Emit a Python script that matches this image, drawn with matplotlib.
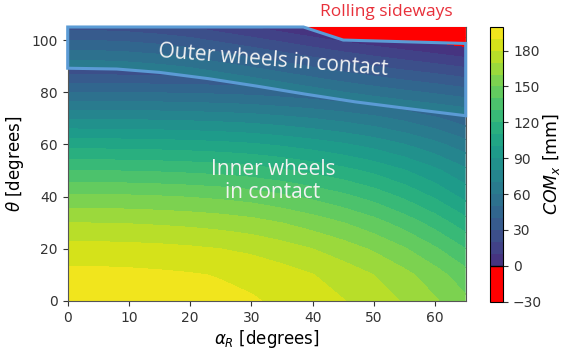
import numpy as np
import matplotlib.pyplot as plt
from matplotlib.colors import ListedColormap, BoundaryNorm
from matplotlib.patches import Polygon
import matplotlib as mpl

# COM_x [mm] on an (alpha_R, theta) grid
alpha_deg = [0, 5, 10, 15, 20, 25, 30, 35, 40, 45, 50, 55, 60, 65]

theta_inner = [0, 10, 20, 30, 40, 50, 60, 70, 80, 90]
com_inner = [
    [196, 195.9, 195.5, 194.9, 194.0, 192.7, 191.0, 188.1, 184.6, 180.4, 175.3, 168.9, 161.2, 152],
    [193, 192.9, 192.5, 191.8, 190.8, 189.4, 187.4, 184.2, 180.3, 175.6, 170.0, 162.9, 154.3, 144],
    [184, 183.8, 183.4, 182.7, 181.6, 180.0, 177.8, 174.3, 170.0, 164.8, 158.6, 150.8, 141.3, 130],
    [170, 169.8, 169.4, 168.6, 167.5, 165.9, 163.6, 159.9, 155.4, 150.1, 143.7, 135.6, 125.8, 114],
    [152, 151.8, 151.4, 150.6, 149.5, 147.9, 145.7, 142.1, 137.7, 132.5, 126.2, 118.2, 108.6, 97],
    [130, 129.9, 129.5, 128.8, 127.8, 126.5, 124.5, 121.4, 117.5, 113.0, 107.4, 100.5, 92.1, 82],
    [106, 105.9, 105.5, 105.0, 104.1, 102.9, 101.2, 98.4, 95.1, 91.1, 86.3, 80.2, 72.8, 64],
    [79, 78.9, 78.6, 78.1, 77.4, 76.4, 75.0, 72.7, 69.9, 66.6, 62.6, 57.5, 51.4, 44],
    [50, 49.9, 49.7, 49.3, 48.7, 47.9, 46.7, 44.8, 42.5, 39.7, 36.4, 32.2, 27.1, 21],
    [20, 19.9, 19.8, 19.5, 19.0, 18.4, 17.5, 16.0, 14.3, 12.2, 9.7, 6.5, 2.6, -2],
]

theta_outer = [60, 70, 80, 90, 100, 105]
com_outer = [
    [143.9, 143.4, 142.1, 139.8, 136.6, 131.7, 126.9, 122.0, 117.0, 112.2, 108.0, 104.1, 100.5, 96.6],
    [117.9, 117.4, 116.1, 113.8, 110.6, 105.7, 100.9, 96.0, 91.0, 86.2, 82.0, 78.1, 74.5, 70.6],
    [91.9, 91.4, 90.1, 87.8, 84.6, 79.7, 74.9, 70.0, 65.0, 60.2, 56.0, 52.1, 48.5, 44.6],
    [65.9, 65.4, 64.1, 61.8, 58.6, 53.7, 48.9, 44.0, 39.0, 34.2, 30.0, 26.1, 22.5, 18.6],
    [39.9, 39.4, 38.1, 35.8, 32.6, 27.7, 22.9, 18.0, 13.0, 8.2, 4.0, 0.1, -3.5, -7.4],
    [26.9, 26.4, 25.1, 22.8, 19.6, 14.7, 9.9, 5.0, 0.0, -4.8, -9.0, -12.9, -16.5, -20.4],
]

# switch between inner and outer wheels in contact
contact_alpha = [0, 8, 15, 23, 31, 39, 47, 56, 65]
contact_theta = [89.2, 88.9, 87.6, 85.2, 82.3, 79.2, 76.3, 73.6, 71]

# robot rolls sideways above this line
rolling_alpha = [38.5, 45, 65]
rolling_theta = [105, 100, 98.7]

levels = np.arange(-30, 201, 10)
band_colors = []
for lo, hi in zip(levels[:-1], levels[1:]):
    if hi <= 0:
        band_colors.append('#ff0000')
    else:
        band_colors.append(plt.cm.viridis(((lo + hi) / 2 + 30) / 230))
cmap = ListedColormap(band_colors)
norm = BoundaryNorm(levels, cmap.N)

fig = plt.figure(figsize=(5.61, 3.52), dpi=100)
ax = fig.add_axes([67.7 / 561, 51 / 352, 398 / 561, 274 / 352])
cax = fig.add_axes([490 / 561, 50.3 / 352, 13.3 / 561, 275 / 352])

A, T = np.meshgrid(alpha_deg, theta_inner)
cs_in = ax.contourf(A, T, np.array(com_inner), levels=levels, cmap=cmap, norm=norm)
inner_poly = [(0, 0), (65, 0)] + list(zip(contact_alpha, contact_theta))[::-1]
clip_in = Polygon(inner_poly, closed=True, transform=ax.transData, facecolor='none', edgecolor='none')
ax.add_patch(clip_in)
cs_in.set_clip_path(clip_in)

A2, T2 = np.meshgrid(alpha_deg, theta_outer)
cs_out = ax.contourf(A2, T2, np.array(com_outer), levels=levels, cmap=cmap, norm=norm)
outer_poly = list(zip(contact_alpha, contact_theta)) + [(65, 105), (0, 105)]
clip_out = Polygon(outer_poly, closed=True, transform=ax.transData, facecolor='none', edgecolor='none')
ax.add_patch(clip_out)
cs_out.set_clip_path(clip_out)

red_poly = list(zip(rolling_alpha, rolling_theta)) + [(65, 105)]
ax.add_patch(Polygon(red_poly, closed=True, facecolor='#ff0000', edgecolor='none', zorder=3))

# outline of the outer-wheels region
outline = (list(zip(contact_alpha, contact_theta)) + [(65, rolling_theta[-1])]
           + list(zip(rolling_alpha, rolling_theta))[::-1][1:] + [(rolling_alpha[0], 105), (0, 105)])
ax.add_patch(Polygon(outline, closed=True, facecolor='none', edgecolor='#5b9bd5',
                     linewidth=2.2, zorder=4, clip_on=False))

ax.set_xlim(0, 65)
ax.set_ylim(0, 105)
ax.set_xticks([0, 10, 20, 30, 40, 50, 60])
ax.set_yticks([0, 20, 40, 60, 80, 100])
ax.tick_params(labelsize=10, colors='#333333')
for s in ax.spines.values():
    s.set_color('#555555')
ax.set_xlabel(r'$\alpha_R$ [degrees]', fontsize=12, labelpad=2)
ax.set_ylabel(r'$\theta$ [degrees]', fontsize=12, labelpad=4)

cb = fig.colorbar(mpl.cm.ScalarMappable(norm=norm, cmap=cmap), cax=cax)
cb.set_ticks([-30, 0, 30, 60, 90, 120, 150, 180])
cb.ax.minorticks_off()
cb.ax.tick_params(labelsize=10, colors='#333333')
cb.ax.axhline(0, color='black', linewidth=1)
cb.set_label(r'$COM_x$ [mm]', fontsize=12.5, labelpad=-1)

ax.text(33.5, 92, 'Outer wheels in contact', color='#f2f2f2', fontsize=15,
        family='Open Sans', ha='center', va='center', rotation=-4.5, zorder=5)
ax.text(33.5, 46, 'Inner wheels\nin contact', color='#f2f2f2', fontsize=15,
        family='Open Sans', ha='center', va='center', linespacing=1.1, zorder=5)
ax.text(52.1, 110.7, 'Rolling sideways', color='#e8303a', fontsize=12.5,
        family='Open Sans', ha='center', va='center', zorder=5, clip_on=False)

fig.savefig('out.png', dpi=100)
